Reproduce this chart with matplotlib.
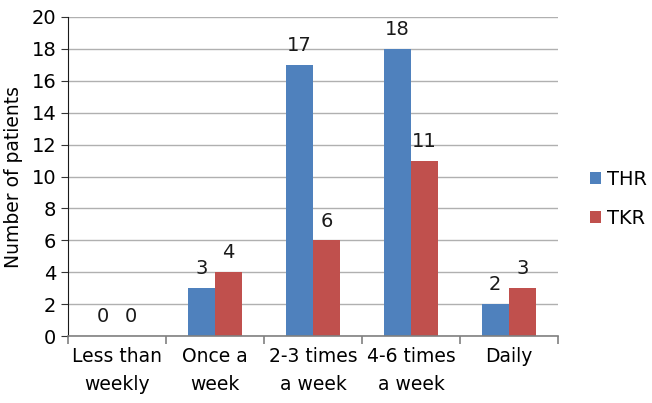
import numpy as np
import matplotlib.pyplot as plt

categories = ['Less than\nweekly', 'Once a\nweek', '2-3 times\na week', '4-6 times\na week', 'Daily']
thr = [0, 3, 17, 18, 2]
tkr = [0, 4, 6, 11, 3]

plt.rcParams['font.family'] = ['DejaVu Sans']

fig = plt.figure(figsize=(6.52, 4.03), dpi=100)
ax = fig.add_axes([68 / 652, 1 - 336 / 403, 490 / 652, 319 / 403])

x = np.arange(len(categories))
w = 0.28
b1 = ax.bar(x - w / 2, thr, w, color='#4F81BD', label='THR')
b2 = ax.bar(x + w / 2, tkr, w, color='#C0504D', label='TKR')

for bars, vals in ((b1, thr), (b2, tkr)):
    for r, v in zip(bars, vals):
        ax.annotate(str(v), (r.get_x() + r.get_width() / 2, v),
                    xytext=(0, 7), textcoords='offset points',
                    ha='center', va='bottom', fontsize=14, color='#1a1a1a')

ax.set_xlim(-0.5, len(categories) - 0.5)
ax.set_ylim(0, 20)
ax.set_yticks(range(0, 21, 2))
ax.yaxis.grid(True, color='#b0b0b0', linewidth=1)
ax.set_axisbelow(True)

ax.set_xticks(x)
ax.set_xticklabels(categories, fontsize=13.5, linespacing=1.6)
ax.tick_params(axis='x', length=0, pad=8)
ax.set_xticks(np.arange(-0.5, len(categories), 1), minor=True)
ax.tick_params(axis='x', which='minor', length=6, color='#808080', width=1.2)
ax.tick_params(axis='y', labelsize=14, length=5, color='#333333')

for s in ('top', 'right'):
    ax.spines[s].set_visible(False)
ax.spines['bottom'].set_color('#808080')
ax.spines['bottom'].set_linewidth(1.2)
ax.spines['left'].set_color('#1a1a1a')

ax.set_ylabel('Number of patients', fontsize=13.5, labelpad=6)

ax.legend(loc='center left', bbox_to_anchor=(1.03, 0.43), frameon=False,
          fontsize=14, handlelength=0.55, handleheight=0.55, labelspacing=1.0,
          handletextpad=0.3)

fig.savefig('out.png', dpi=100)
